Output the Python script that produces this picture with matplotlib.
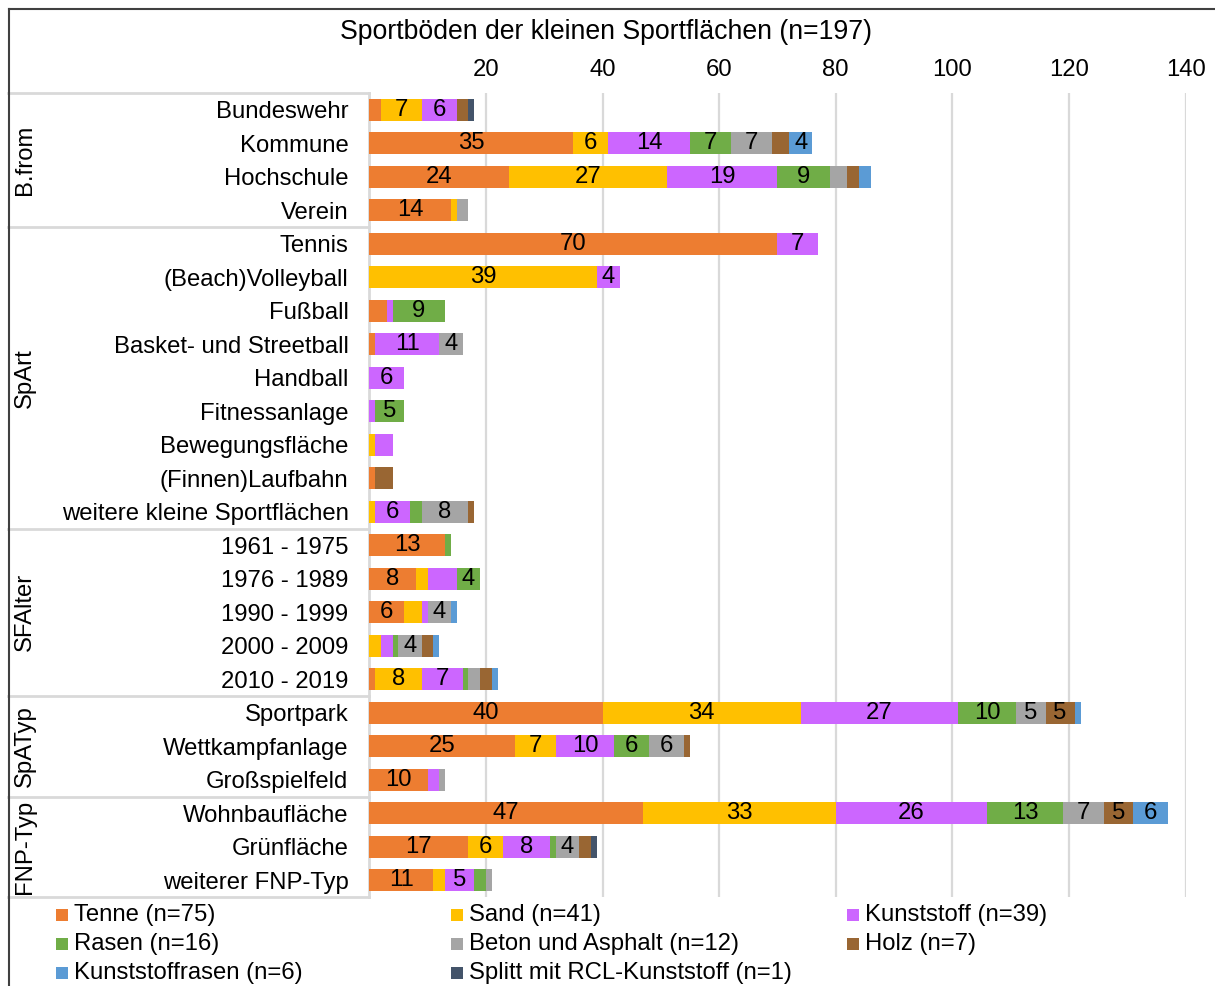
import matplotlib
matplotlib.use("Agg")
import matplotlib.pyplot as plt
from matplotlib.patches import Rectangle
from matplotlib.lines import Line2D
import numpy as np

plt.rcParams['font.family'] = ['Liberation Sans', 'DejaVu Sans']

title = "Sportböden der kleinen Sportflächen (n=197)"

categories = ["Bundeswehr", "Kommune", "Hochschule", "Verein",
              "Tennis", "(Beach)Volleyball", "Fußball", "Basket- und Streetball",
              "Handball", "Fitnessanlage", "Bewegungsfläche", "(Finnen)Laufbahn",
              "weitere kleine Sportflächen",
              "1961 - 1975", "1976 - 1989", "1990 - 1999", "2000 - 2009", "2010 - 2019",
              "Sportpark", "Wettkampfanlage", "Großspielfeld",
              "Wohnbaufläche", "Grünfläche", "weiterer FNP-Typ"]

groups = ["B.from", "SpArt", "SFAlter", "SpATyp", "FNP-Typ"]
group_sizes = [4, 9, 5, 3, 3]

series_names = ["Tenne (n=75)", "Sand (n=41)", "Kunststoff (n=39)", "Rasen (n=16)",
                "Beton und Asphalt (n=12)", "Holz (n=7)", "Kunststoffrasen (n=6)",
                "Splitt mit RCL-Kunststoff (n=1)"]

tenne       = [2, 35, 24, 14, 70, 0, 3, 1, 0, 0, 0, 1, 0, 13, 8, 6, 0, 1, 40, 25, 10, 47, 17, 11]
sand        = [7, 6, 27, 1, 0, 39, 0, 0, 0, 0, 1, 0, 1, 0, 2, 3, 2, 8, 34, 7, 0, 33, 6, 2]
kunststoff  = [6, 14, 19, 0, 7, 4, 1, 11, 6, 1, 3, 0, 6, 0, 5, 1, 2, 7, 27, 10, 2, 26, 8, 5]
rasen       = [0, 7, 9, 0, 0, 0, 9, 0, 0, 5, 0, 0, 2, 1, 4, 0, 1, 1, 10, 6, 0, 13, 1, 2]
beton       = [0, 7, 3, 2, 0, 0, 0, 4, 0, 0, 0, 0, 8, 0, 0, 4, 4, 2, 5, 6, 1, 7, 4, 1]
holz        = [2, 3, 2, 0, 0, 0, 0, 0, 0, 0, 0, 3, 1, 0, 0, 0, 2, 2, 5, 1, 0, 5, 2, 0]
kunstrasen  = [0, 4, 2, 0, 0, 0, 0, 0, 0, 0, 0, 0, 0, 0, 0, 1, 1, 1, 1, 0, 0, 6, 0, 0]
splitt      = [1, 0, 0, 0, 0, 0, 0, 0, 0, 0, 0, 0, 0, 0, 0, 0, 0, 0, 0, 0, 0, 0, 1, 0]

series = [tenne, sand, kunststoff, rasen, beton, holz, kunstrasen, splitt]
colors = ["#ED7D31", "#FFC000", "#CC66FF", "#70AD47", "#A5A5A5", "#996633", "#5B9BD5", "#44546A"]

# data labels hidden in the original (row index, series index)
hidden_labels = {(14, 2)}

xticks = [20, 40, 60, 80, 100, 120, 140]

W, H = 1215, 986
fig = plt.figure(figsize=(W / 100, H / 100), dpi=100)
FS = 17.2

x0, x1 = 369.3, 1185.5
y0, y1 = 93, 897
ax = fig.add_axes([x0 / W, 1 - y1 / H, (x1 - x0) / W, (y1 - y0) / H])

n = len(categories)
y = np.arange(n)
left = np.zeros(n)
for si, (vals, col) in enumerate(zip(series, colors)):
    v = np.array(vals, dtype=float)
    ax.barh(y, v, left=left, height=0.665, color=col, edgecolor='none', zorder=3)
    for i in range(n):
        if v[i] >= 4 and (i, si) not in hidden_labels:
            ax.text(left[i] + v[i] / 2, y[i], f"{int(v[i])}", ha='center', va='center',
                    fontsize=FS, color='black', zorder=4)
    left += v

ax.set_xlim(0, 140)
ax.set_ylim(n - 0.5, -0.5)
ax.set_xticks(xticks)
ax.set_xticklabels([str(t) for t in xticks], fontsize=FS)
ax.xaxis.tick_top()
ax.tick_params(axis='x', length=0, pad=9)
ax.set_yticks(y)
ax.set_yticklabels(categories, fontsize=FS)
ax.tick_params(axis='y', length=0, pad=15)
ax.grid(axis='x', color='#D9D9D9', linewidth=1.6, zorder=0)
for s in ['top', 'right', 'bottom']:
    ax.spines[s].set_visible(False)
ax.spines['left'].set_color('#D9D9D9')
ax.spines['left'].set_linewidth(2)

def fx(px):
    return px / W

def fy(py):
    return 1 - py / H

# table separators
bounds = [93]
acc = 0
row_h = (y1 - y0) / n
for gs in group_sizes:
    acc += gs
    bounds.append(y0 + acc * row_h)
for b in bounds:
    fig.add_artist(Line2D([fx(8), fx(x0)], [fy(b), fy(b)], color='#D9D9D9', lw=2))

# group labels
for gi, g in enumerate(groups):
    c = (bounds[gi] + bounds[gi + 1]) / 2
    fig.text(fx(25), fy(c), g, rotation=90, ha='center', va='center', fontsize=FS)

# title
fig.text(fx(606), fy(32), title, ha='center', va='center', fontsize=19.2)

# border
fig.add_artist(Line2D([fx(8.5), fx(8.5)], [fy(8.5), 0], color='#404040', lw=1.5))
fig.add_artist(Line2D([fx(8.5), 1], [fy(8.5), fy(8.5)], color='#404040', lw=1.5))

# legend (row-major, 3 columns)
col_x = [56, 451, 847]
row_y = [915, 944, 973]
for k, (name, col) in enumerate(zip(series_names, colors)):
    r, c = divmod(k, 3)
    mx, my = col_x[c], row_y[r]
    fig.add_artist(Rectangle((fx(mx), fy(my + 6)), 12 / W, 12 / H, facecolor=col,
                             edgecolor='none', transform=fig.transFigure))
    fig.text(fx(mx + 18), fy(my), name, ha='left', va='center', fontsize=FS)

fig.savefig("out.png", dpi=100)
